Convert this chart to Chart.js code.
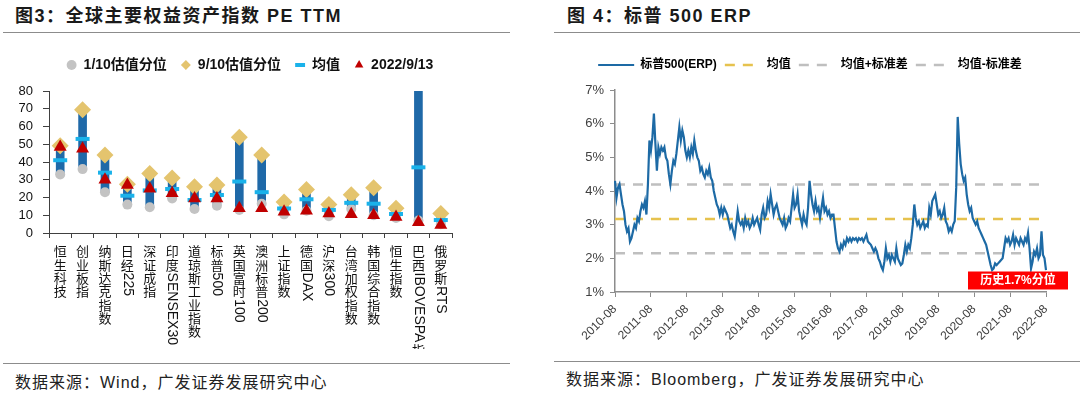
<!DOCTYPE html>
<html>
<head>
<meta charset="utf-8">
<script src="https://cdn.jsdelivr.net/npm/chart.js"></script>
<style>
body { margin: 0; width: 1080px; height: 399px; background: #fff; position: relative; overflow: hidden;
       font-family: "Liberation Sans", "Noto Sans CJK SC", sans-serif; }
.title { position: absolute; top: 5px; font-weight: bold; font-size: 18px; letter-spacing: 1.5px; color: #1a1a1a; line-height: 22px; white-space: nowrap; }
.rule { position: absolute; height: 0; border-top: 1.5px solid #8c8c8c; }
.src { position: absolute; font-size: 16px; letter-spacing: 1px; color: #222; white-space: nowrap; line-height: 20px; }
.box { position: absolute; top: 40px; height: 320px; }
</style>
</head>
<body>
<div class="title" style="left:15px">图3：全球主要权益资产指数 PE TTM</div>
<div class="title" style="left:567px">图 4：标普 500 ERP</div>
<div class="rule" style="left:3px;width:507px;top:32px"></div>
<div class="rule" style="left:554px;width:526px;top:32px"></div>
<div class="rule" style="left:3px;width:507px;top:363px"></div>
<div class="rule" style="left:554px;width:526px;top:361px"></div>
<div class="src" style="left:15px;top:373px">数据来源：Wind，广发证券发展研究中心</div>
<div class="src" style="left:566px;top:370px">数据来源：Bloomberg，广发证券发展研究中心</div>
<div class="box" style="left:0;width:500px"><canvas id="peChart" width="500" height="320"></canvas></div>
<div class="box" style="left:540px;width:540px"><canvas id="erpChart" width="540" height="320"></canvas></div>

<script>
// ---- 图3 data ----
const peLabels = ['恒生科技', '创业板指', '纳斯达克指数', '日经225', '深证成指', '印度SENSEX30', '道琼斯工业指数',
    '标普500', '英国富时100', '澳洲标普200', '上证指数', '德国DAX', '沪深300', '台湾加权指数', '韩国综合指数',
    '恒生指数', '巴西IBOVESPA指数', '俄罗斯RTS'];
const peLow  = [33, 36, 23, 16, 14.5, 19.5, 13.5, 15.4, 13, 16.5, 10.5, 12.5, 9.5, 13.5, 10, 8.5, 7, 5];
const peHigh = [49.2, 69.5, 44, 27.5, 33.5, 31, 26, 27, 54, 44, 17.5, 24.5, 16, 21.5, 25.5, 14, 110, 11];
const peMean = [41, 53, 34, 21, 24, 24.8, 18.6, 21.4, 29, 23, 13.8, 19, 13, 17, 16.5, 10.7, 37, 7.3];
const peNow  = [48.5, 47.5, 30, 27, 25, 22.4, 19.5, 19.5, 14, 14, 12, 12.5, 11, 10.5, 10, 9, 6, 4.5];
const peTicks = [0, 80, 10];

// ---- 图4 data (half-monthly, from 2010-08) ----
const erpStart = [2010, 8];
const erpValues = [
    4.3, 3.8, 4.1, 4.2, 3.9, 3.6, 3.4, 3.0, 2.8, 2.9,
    2.5, 2.6, 2.8, 3.0, 2.9, 3.2, 3.1, 3.4, 3.6, 3.5,
    3.7, 3.3, 4.2, 5.5, 5.2, 5.6, 6.3, 5.4, 4.6, 5.3,
    5.1, 5.3, 5.2, 5.3, 5.0, 4.9, 4.5, 4.2, 4.6, 4.9,
    4.8, 5.1, 5.5, 5.9, 5.5, 5.8, 5.6, 5.2, 5.0, 5.2,
    5.0, 5.3, 5.1, 5.5, 5.2, 5.0, 4.9, 4.6, 4.7, 4.5,
    4.4, 4.6, 4.5, 4.7, 4.4, 4.3, 4.0, 3.8, 3.6, 3.5,
    3.3, 3.5, 3.3, 3.5, 3.4, 3.3, 3.1, 2.9, 3.0, 2.8,
    2.65, 3.0, 3.4, 3.1, 3.0, 3.1, 2.9, 3.2, 3.0, 3.1,
    2.9, 3.0, 3.2, 3.0, 3.1, 3.2, 3.0, 2.85, 3.3, 3.5,
    3.2, 3.3, 3.7, 3.5, 3.9, 3.6, 3.3, 3.5, 3.6, 3.4,
    3.2, 3.1, 3.0, 3.2, 2.9, 3.0, 3.2, 3.1, 3.5, 3.9,
    3.5, 3.6, 3.9, 3.4, 3.2, 3.0, 3.3, 3.1, 3.0, 3.5,
    4.3, 3.9, 3.6, 3.4, 3.7, 3.4, 3.5, 3.2, 3.5, 3.8,
    3.4, 3.5, 3.3, 3.4, 3.2, 3.3, 3.3, 2.9, 2.5, 2.3,
    2.2, 2.4, 2.3, 2.5, 2.4, 2.6, 2.5, 2.6, 2.5, 2.6,
    2.55, 2.6, 2.5, 2.6, 2.55, 2.6, 2.5, 2.6, 2.7, 2.5,
    2.45, 2.4, 2.3, 2.2, 2.3, 2.2, 2.0, 1.9, 1.75, 1.65,
    1.9, 2.3, 2.0, 2.1, 1.9, 2.1, 2.0, 1.9, 2.3, 2.0,
    1.9, 1.8, 1.85, 2.1, 2.4, 2.2, 2.4, 2.3, 2.6, 3.0,
    3.6, 3.2, 3.0, 3.1, 2.9, 3.0, 3.1, 2.9, 3.0, 2.95,
    3.5, 3.3, 3.7, 3.8, 3.9, 3.6, 3.3, 3.4, 3.2, 3.3,
    3.5, 3.1, 3.0, 2.8, 2.9, 2.8, 3.0, 3.1, 4.1, 6.2,
    5.4, 4.8, 4.5, 4.3, 4.4, 3.9, 3.6, 3.4, 3.5, 3.2,
    3.1, 3.0, 3.1, 2.9, 2.8, 2.7, 2.6, 2.5, 2.4, 2.2,
    2.0, 1.8, 1.65, 1.7, 1.85, 1.8, 1.85, 1.9, 1.95, 2.0,
    2.3, 2.6, 2.5, 2.6, 2.4, 2.5, 2.7, 2.4, 2.6, 2.5,
    2.4, 2.6, 2.5, 2.4, 2.6, 2.5, 2.75, 2.3, 1.7, 1.9,
    2.2, 2.1, 2.3, 2.0, 2.1, 2.8, 2.1, 2.0, 1.65
];
const erpMean = 3.17;
const erpStd = 1.02;
const erpYearTicks = ['2010-08', '2011-08', '2012-08', '2013-08', '2014-08', '2015-08', '2016-08',
    '2017-08', '2018-08', '2019-08', '2020-08', '2021-08', '2022-08'];
const erpNote = '历史1.7%分位';

const FONT = '"Liberation Sans", "Noto Sans CJK SC", sans-serif';
const CJK = /[\u4e00-\u9fff]/;

// vertical category labels (CJK upright, Latin rotated), like the original
const verticalLabels = {
    id: 'verticalLabels',
    afterDraw(chart) {
        const xs = chart.scales.x;
        const ctx = chart.ctx;
        ctx.save();
        ctx.beginPath();
        ctx.rect(0, xs.top, chart.width, 116);
        ctx.clip();
        ctx.fillStyle = '#111';
        chart.data.labels.forEach((label, i) => {
            const x = xs.getPixelForValue(i);
            let y = xs.top + 12;
            label.match(/[\u4e00-\u9fff]|[^\u4e00-\u9fff]+/g).forEach(run => {
                if (CJK.test(run)) {
                    ctx.font = '13px "Noto Sans CJK SC"';
                    ctx.textAlign = 'center';
                    ctx.textBaseline = 'top';
                    ctx.fillText(run, x, y);
                    y += 13.3;
                } else {
                    ctx.font = '14px "Liberation Sans"';
                    const w = ctx.measureText(run).width;
                    ctx.save();
                    ctx.translate(x, y + 1);
                    ctx.rotate(Math.PI / 2);
                    ctx.textAlign = 'left';
                    ctx.textBaseline = 'middle';
                    ctx.fillText(run, 0, 0);
                    ctx.restore();
                    y += w + 2;
                }
            });
        });
        ctx.restore();
    }
};

const noteBox = {
    id: 'noteBox',
    afterDraw(chart) {
        const ctx = chart.ctx;
        const xs = chart.scales.x;
        const ca = chart.chartArea;
        const right = xs.getPixelForValue(erpValues.length - 1) + 22;
        const w = 100, h = 18;
        ctx.save();
        ctx.fillStyle = '#ff0000';
        ctx.fillRect(right - w, ca.bottom - 2.5 - h, w, h);
        ctx.fillStyle = '#fff';
        ctx.font = 'bold 12px ' + FONT;
        ctx.textAlign = 'center';
        ctx.textBaseline = 'middle';
        ctx.fillText(erpNote, right - w / 2, ca.bottom - 2.5 - h / 2 + 0.5);
        ctx.restore();
    }
};

const spacer = pad => ({ display: true, text: '', padding: { top: pad, bottom: 0 }, font: { size: 1, lineHeight: 1 } });
const rightGap = w => ({ position: 'right', display: true, grid: { display: false }, border: { display: false },
    ticks: { display: false }, afterFit(s) { s.width = w; } });

function buildPeChart() {
    const point = (label, data, style, radius, color, order) => ({
        type: 'line', label, data, showLine: false, order,
        pointStyle: style, pointRadius: radius, pointHoverRadius: radius,
        pointBackgroundColor: color, backgroundColor: color, borderColor: color,
        pointBorderWidth: 0, borderWidth: 0
    });
    const meanSet = point('均值', peMean, 'line', 7, '#1ab2ea', 2);
    meanSet.pointBorderWidth = 4;
    meanSet.pointBorderColor = '#1ab2ea';

    new Chart(document.getElementById('peChart'), {
        type: 'bar',
        data: {
            labels: peLabels,
            datasets: [
                { type: 'bar', label: 'range', data: peLabels.map((_, i) => [peLow[i], peHigh[i]]),
                  backgroundColor: '#1f69a8', barThickness: 8, order: 5 },
                point('1/10估值分位', peLow, 'circle', 5, '#c3c3c3', 4),
                point('9/10估值分位', peHigh, 'rectRot', 8.5, '#e4c46e', 3),
                meanSet,
                point('2022/9/13', peNow, 'triangle', 7.5, '#c00000', 1)
            ]
        },
        options: {
            responsive: false,
            animation: false,
            layout: { padding: { top: 4, right: 0, bottom: 0, left: 0 } },
            plugins: {
                tooltip: { enabled: false },
                title: spacer(8),
                legend: {
                    weight: 3000,
                    labels: {
                        usePointStyle: true, boxWidth: 10, boxHeight: 7, padding: 14, color: '#111',
                        font: { size: 14, weight: 'bold', family: FONT },
                        filter: item => item.datasetIndex > 0,
                        sort: (a, b) => a.datasetIndex - b.datasetIndex
                    }
                }
            },
            scales: {
                x: {
                    grid: { drawOnChartArea: false, tickLength: 5, tickColor: '#404040' },
                    border: { color: '#404040', width: 1 },
                    ticks: { display: false },
                    afterFit(s) { s.height = 127; }
                },
                y: {
                    min: peTicks[0], max: peTicks[1],
                    ticks: { stepSize: peTicks[2], autoSkip: false, padding: 10, color: '#111',
                             font: { size: 13, family: FONT } },
                    grid: { drawOnChartArea: false, tickLength: 6, tickColor: '#404040' },
                    border: { color: '#404040', width: 1 },
                    afterFit(s) { s.width = 49; }
                },
                gap: rightGap(48)
            }
        },
        plugins: [verticalLabels]
    });
}

function buildErpChart() {
    const erpLabels = erpValues.map((_, i) => {
        const m = erpStart[1] - 1 + Math.floor(i / 2);
        const y = erpStart[0] + Math.floor(m / 12);
        return y + '-' + String(m % 12 + 1).padStart(2, '0') + (i % 2 ? '-16' : '-01');
    });
    const isYearTick = i => erpLabels[i] && erpLabels[i].endsWith('-01') && erpYearTicks.includes(erpLabels[i].slice(0, 7));
    const first = erpLabels[0];
    const last = erpLabels[erpLabels.length - 1];
    const flat = (label, v, color, order) => ({
        label, data: [{ x: first, y: v }, { x: last, y: v }], borderColor: color, backgroundColor: color,
        borderWidth: 2.5, borderDash: [10, 8], pointRadius: 0, order
    });

    new Chart(document.getElementById('erpChart'), {
        type: 'line',
        data: {
            labels: erpLabels,
            datasets: [
                { label: '标普500(ERP)', data: erpValues, borderColor: '#1d6aa5', backgroundColor: '#1d6aa5',
                  borderWidth: 2.2, pointRadius: 0, tension: 0, order: 0 },
                flat('均值', erpMean, '#e6c24e', 1),
                flat('均值+标准差', erpMean + erpStd, '#bfbfbf', 2),
                flat('均值-标准差', erpMean - erpStd, '#bfbfbf', 3)
            ]
        },
        options: {
            responsive: false,
            animation: false,
            layout: { padding: { top: 11, right: 0, bottom: 0, left: 0 } },
            plugins: {
                tooltip: { enabled: false },
                title: spacer(8),
                legend: {
                    weight: 3000,
                    labels: {
                        usePointStyle: true, pointStyleWidth: 36, boxHeight: 12, padding: 8, color: '#222',
                        font: { size: 12, weight: 'bold', family: FONT },
                        generateLabels: chart => chart.data.datasets.map((ds, i) => ({
                            text: ds.label, datasetIndex: i, fillStyle: ds.borderColor, strokeStyle: ds.borderColor,
                            lineWidth: ds.borderWidth, lineDash: ds.borderDash || [], pointStyle: 'line', hidden: false
                        }))
                    }
                }
            },
            scales: {
                x: {
                    ticks: {
                        autoSkip: false, maxRotation: 45, minRotation: 45, padding: 5, color: '#404040',
                        font: { size: 12, family: FONT },
                        callback(value, index) { return isYearTick(index) ? erpLabels[index].slice(0, 7) : ''; }
                    },
                    grid: { drawOnChartArea: false, tickLength: 5,
                            tickColor: c => isYearTick(c.index) ? '#8c8c8c' : 'rgba(0,0,0,0)' },
                    border: { color: '#8c8c8c', width: 1.5 },
                    afterFit(s) { s.height = 68; }
                },
                y: {
                    min: 1, max: 7,
                    ticks: { stepSize: 1, padding: 6, color: '#404040', font: { size: 13, family: FONT },
                             callback: v => v + '%' },
                    grid: { drawOnChartArea: false, tickLength: 5, tickColor: '#8c8c8c' },
                    border: { color: '#8c8c8c', width: 1.5 },
                    afterFit(s) { s.width = 75; }
                },
                gap: rightGap(34)
            }
        },
        plugins: [noteBox]
    });
}

document.addEventListener('DOMContentLoaded', () => {
    buildPeChart();
    buildErpChart();
});
</script>
</body>
</html>
